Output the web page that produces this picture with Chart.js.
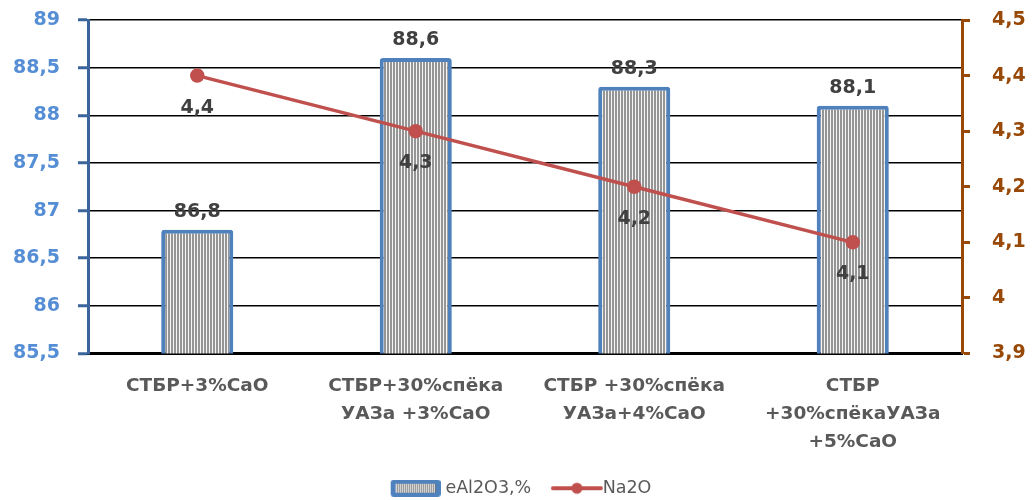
<!DOCTYPE html>
<html>
<head>
<meta charset="utf-8">
<script src="https://cdn.jsdelivr.net/npm/chart.js@4/dist/chart.umd.min.js"></script>
<style>
  html, body { margin: 0; padding: 0; background: #fff; }
  #wrap { width: 1032px; height: 500px; position: relative; }
</style>
</head>
<body>
<div id="wrap"><canvas id="c" width="1032" height="500"></canvas></div>
<script>
// Categories (multi-line labels) and series
const categories = [
  ['СТБР+3%СаО'],
  ['СТБР+30%спёка', 'УАЗа +3%СаО'],
  ['СТБР +30%спёка', 'УАЗа+4%СаО'],
  ['СТБР', '+30%спёкаУАЗа', '+5%СаО']
];
const al2o3Values = [86.8, 88.6, 88.3, 88.1];
const na2oValues = [4.4, 4.3, 4.2, 4.1];
const seriesNames = ['eAl2O3,%', 'Na2O'];

const leftTicks = [85.5, 86, 86.5, 87, 87.5, 88, 88.5, 89];
const rightTicks = [3.9, 4.0, 4.1, 4.2, 4.3, 4.4, 4.5];

const FONT = '"DejaVu Sans", Verdana, sans-serif';
const BLUE = '#4F81BD';
const RED = '#C0504D';
const fmt = v => String(Math.round(v * 10) / 10).replace('.', ',');

// Vertical hatch fill used by the bars
function hatchPattern() {
  const c = document.createElement('canvas');
  c.width = 3; c.height = 4;
  const x = c.getContext('2d');
  x.fillStyle = '#f4f4f4'; x.fillRect(0, 0, 3, 4);
  x.fillStyle = '#959595'; x.fillRect(0, 0, 2, 4);
  return x.createPattern(c, 'repeat');
}
const ctx = document.getElementById('c').getContext('2d');
const hatch = hatchPattern();

// Legend swatches (drawn right of centre inside their canvases)
function barSwatch() {
  const c = document.createElement('canvas');
  c.width = 54; c.height = 17;
  const x = c.getContext('2d');
  const o = 4;
  x.fillStyle = BLUE;
  x.beginPath(); x.roundRect(o, 0, 50, 17, 3); x.fill();
  x.fillStyle = '#ffffff'; x.fillRect(o + 5, 4, 40, 9);
  x.fillStyle = '#707070';
  for (let i = o + 6; i < o + 45; i += 2) x.fillRect(i, 4, 1, 9);
  return c;
}
function lineSwatch() {
  const c = document.createElement('canvas');
  c.width = 66; c.height = 16;
  const x = c.getContext('2d');
  const o = 13;
  x.strokeStyle = RED; x.lineWidth = 4; x.lineCap = 'round';
  x.beginPath(); x.moveTo(o + 2, 8); x.lineTo(o + 50, 8); x.stroke();
  x.fillStyle = RED;
  x.beginPath(); x.arc(o + 26, 8, 5.5, 0, Math.PI * 2); x.fill();
  return c;
}

// Value labels above bars and below line points
const valueLabels = {
  id: 'valueLabels',
  afterDatasetsDraw(chart) {
    const c = chart.ctx;
    c.save();
    c.font = 'bold 19px ' + FONT;
    c.fillStyle = '#404040';
    c.textAlign = 'center';
    c.textBaseline = 'middle';
    const bars = chart.getDatasetMeta(0).data;
    bars.forEach((el, i) => c.fillText(fmt(al2o3Values[i]), el.x, el.y - 18));
    const pts = chart.getDatasetMeta(1).data;
    pts.forEach((el, i) => c.fillText(fmt(na2oValues[i]), el.x, el.y + 32));
    c.restore();
  }
};

// Legend row sits a little right of the canvas centre
const legendNudge = {
  id: 'legendNudge',
  afterLayout(chart) {
    if (chart.legend) { chart.legend.left += 5; chart.legend.right += 5; }
  }
};

// Vertical axes: keep their label padding from pushing the plot area down
function fixVertical(width) {
  return s => { s.width = width; s.paddingTop = 0; s.paddingBottom = 0; };
}

new Chart(ctx, {
  data: {
    labels: categories,
    datasets: [
      {
        type: 'bar',
        label: seriesNames[0],
        data: al2o3Values,
        yAxisID: 'y',
        backgroundColor: hatch,
        borderColor: BLUE,
        borderWidth: 4,
        borderRadius: 3,
        borderSkipped: false,
        barPercentage: 0.33,
        categoryPercentage: 1,
        order: 2
      },
      {
        type: 'line',
        label: seriesNames[1],
        data: na2oValues,
        yAxisID: 'y1',
        borderColor: RED,
        backgroundColor: RED,
        borderWidth: 3.5,
        pointRadius: 5.5,
        pointBackgroundColor: RED,
        pointBorderColor: RED,
        tension: 0,
        order: 1
      }
    ]
  },
  options: {
    responsive: false,
    animation: false,
    devicePixelRatio: 1,
    layout: { autoPadding: false, padding: { top: 20, bottom: -7, left: 0, right: 0 } },
    plugins: {
      tooltip: { enabled: false },
      legend: {
        position: 'bottom',
        labels: {
          usePointStyle: true,
          pointStyleWidth: 46,
          padding: 0,
          color: '#595959',
          font: { family: FONT, size: 17.5 },
          generateLabels(chart) {
            return [
              { text: seriesNames[0] + '   ', pointStyle: barSwatch(), datasetIndex: 0, fontColor: '#595959', lineWidth: 0, strokeStyle: 'transparent', fillStyle: 'transparent' },
              { text: seriesNames[1], pointStyle: lineSwatch(), datasetIndex: 1, fontColor: '#595959', lineWidth: 0, strokeStyle: 'transparent', fillStyle: 'transparent' }
            ];
          }
        }
      }
    },
    scales: {
      x: {
        grid: { display: false, drawTicks: false },
        border: { display: true, color: '#000000', width: 3 },
        ticks: {
          color: '#595959',
          padding: 19,
          maxRotation: 0,
          autoSkip: false,
          font: { family: FONT, size: 18.5, weight: 'bold', lineHeight: 1.5 }
        },
        afterFit(s) { s.height = 126; s.paddingLeft = 0; s.paddingRight = 0; }
      },
      y: {
        position: 'left',
        min: 85.5,
        max: 89,
        afterBuildTicks(s) { s.ticks = leftTicks.map(v => ({ value: v })); },
        grid: { color: '#000000', lineWidth: 1.5, drawTicks: true, tickLength: 10, tickColor: '#3A649C', tickWidth: 3 },
        border: { display: true, color: '#3A649C', width: 3 },
        ticks: {
          color: '#558ED5',
          padding: 18,
          font: { family: FONT, size: 19, weight: 'bold' },
          callback: v => fmt(v)
        },
        afterFit: fixVertical(88)
      },
      y1: {
        position: 'right',
        min: 3.9,
        max: 4.5,
        afterBuildTicks(s) { s.ticks = rightTicks.map(v => ({ value: v })); },
        grid: { drawOnChartArea: false, drawTicks: true, tickLength: 8, tickColor: '#984807', tickWidth: 3 },
        border: { display: true, color: '#984807', width: 3 },
        ticks: {
          color: '#984807',
          padding: 22,
          align: 'center',
          crossAlign: 'near',
          font: { family: FONT, size: 19, weight: 'bold' },
          callback: v => fmt(v)
        },
        afterFit: fixVertical(70)
      }
    }
  },
  plugins: [valueLabels, legendNudge]
});
</script>
</body>
</html>
